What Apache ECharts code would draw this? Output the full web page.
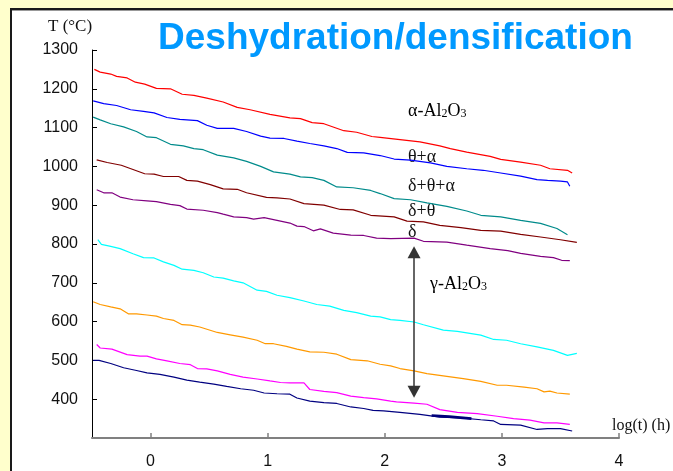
<!DOCTYPE html>
<html>
<head>
<meta charset="utf-8">
<script src="https://cdn.jsdelivr.net/npm/echarts@6/dist/echarts.min.js"></script>
<style>
html,body{margin:0;padding:0;}
#bg{position:absolute;left:0;top:0;width:673px;height:471px;background:#FFFFCC;}
#panel{position:absolute;left:10px;top:8px;width:663px;height:463px;background:#fff;border-left:2px solid #1a1a1a;border-top:2px solid #1a1a1a;box-sizing:border-box;box-shadow:inset 0 1px 0 #999;}
#chart{position:absolute;left:0;top:0;width:673px;height:471px;}
</style>
</head>
<body>
<div id="bg"></div>
<div id="panel"></div>
<div id="chart"></div>
<script>
// x = log(t) (h), y = T (°C)
const xTicks = [0, 1, 2, 3, 4];
const lineAlpha = [[-0.48,1250],[-0.43,1243],[-0.34,1238],[-0.29,1232],[-0.20,1228],[-0.13,1217],[-0.05,1212],[0.05,1201],[0.17,1200],[0.27,1186],[0.37,1183],[0.48,1176],[0.62,1166],[0.74,1152],[0.85,1146],[1.02,1134],[1.19,1125],[1.28,1123],[1.38,1113],[1.48,1110],[1.65,1092],[1.76,1088],[1.89,1077],[1.96,1075],[2.13,1069],[2.30,1063],[2.47,1053],[2.56,1046],[2.70,1037],[2.90,1026],[2.99,1018],[3.16,1011],[3.33,1003],[3.41,994],[3.56,990],[3.60,983]];
const lineThetaAlpha = [[-0.49,1169],[-0.40,1162],[-0.29,1157],[-0.17,1146],[-0.06,1142],[0.03,1138],[0.14,1126],[0.25,1121],[0.40,1118],[0.48,1106],[0.57,1098],[0.71,1098],[0.82,1090],[0.94,1078],[1.02,1073],[1.14,1072],[1.25,1065],[1.36,1059],[1.48,1053],[1.59,1046],[1.68,1036],[1.82,1035],[1.96,1028],[2.08,1019],[2.22,1016],[2.39,1009],[2.53,1000],[2.70,994],[2.84,990],[2.99,983],[3.16,975],[3.30,966],[3.39,964],[3.50,962],[3.56,960],[3.58,949]];
const lineDeltaThetaAlpha = [[-0.49,1127],[-0.43,1120],[-0.34,1110],[-0.23,1102],[-0.12,1090],[-0.03,1076],[0.05,1074],[0.17,1057],[0.28,1053],[0.37,1046],[0.45,1043],[0.57,1029],[0.71,1022],[0.82,1013],[0.94,1000],[1.05,986],[1.19,980],[1.28,973],[1.38,971],[1.48,964],[1.59,947],[1.73,945],[1.88,938],[1.96,930],[2.08,917],[2.22,914],[2.36,906],[2.53,897],[2.70,885],[2.82,874],[2.99,870],[3.16,861],[3.33,853],[3.47,840],[3.56,824]];
const lineDeltaTheta = [[-0.46,1017],[-0.37,1010],[-0.25,1003],[-0.15,992],[-0.05,981],[0.03,980],[0.11,974],[0.24,974],[0.31,964],[0.40,962],[0.51,953],[0.62,942],[0.74,941],[0.82,932],[0.99,920],[1.08,919],[1.19,916],[1.31,904],[1.48,900],[1.62,889],[1.73,888],[1.88,874],[2.08,870],[2.19,859],[2.33,857],[2.47,848],[2.65,842],[2.82,835],[2.99,833],[3.16,825],[3.33,818],[3.50,811],[3.64,804]];
const lineDelta = [[-0.46,940],[-0.40,932],[-0.33,932],[-0.26,921],[-0.15,914],[-0.03,911],[0.05,909],[0.17,902],[0.25,899],[0.31,890],[0.45,887],[0.57,881],[0.62,877],[0.71,870],[0.82,868],[0.88,864],[0.97,868],[1.05,863],[1.19,854],[1.25,846],[1.31,845],[1.39,834],[1.45,839],[1.56,828],[1.71,823],[1.82,822],[1.93,815],[2.05,814],[2.25,815],[2.33,807],[2.53,805],[2.70,797],[2.90,788],[3.05,783],[3.16,776],[3.33,768],[3.44,765],[3.51,758],[3.58,757]];
const lineGammaA = [[-0.45,811],[-0.42,799],[-0.34,794],[-0.26,788],[-0.15,775],[-0.06,765],[0.03,764],[0.11,754],[0.20,745],[0.27,735],[0.37,732],[0.45,726],[0.54,715],[0.62,712],[0.71,705],[0.79,700],[0.91,681],[0.99,678],[1.08,668],[1.19,662],[1.31,653],[1.42,644],[1.53,640],[1.65,629],[1.76,623],[1.88,614],[1.96,612],[2.05,605],[2.13,603],[2.25,599],[2.33,592],[2.50,578],[2.62,575],[2.82,565],[2.93,554],[3.04,552],[3.16,543],[3.30,535],[3.44,526],[3.56,513],[3.64,518]];
const lineGammaB = [[-0.49,651],[-0.43,644],[-0.34,638],[-0.26,633],[-0.19,620],[-0.12,620],[-0.03,617],[0.05,614],[0.11,608],[0.20,603],[0.27,592],[0.34,591],[0.42,586],[0.57,572],[0.68,566],[0.79,560],[0.91,552],[0.98,543],[1.05,543],[1.16,536],[1.25,529],[1.36,522],[1.48,521],[1.59,516],[1.71,502],[1.85,499],[1.96,490],[2.05,486],[2.13,479],[2.25,473],[2.36,466],[2.53,459],[2.67,453],[2.82,446],[2.96,436],[3.04,436],[3.19,431],[3.30,427],[3.36,419],[3.41,421],[3.47,416],[3.58,413]];
const lineGammaC = [[-0.46,541],[-0.43,532],[-0.33,529],[-0.20,515],[-0.09,511],[-0.03,511],[0.05,504],[0.14,499],[0.25,492],[0.34,489],[0.40,479],[0.48,478],[0.57,473],[0.68,464],[0.79,457],[0.91,452],[1.02,447],[1.11,443],[1.19,442],[1.31,442],[1.36,425],[1.48,420],[1.59,417],[1.71,408],[1.82,404],[1.93,401],[2.05,395],[2.10,393],[2.25,390],[2.36,387],[2.47,373],[2.62,366],[2.79,363],[2.96,356],[3.10,350],[3.24,346],[3.36,339],[3.47,339],[3.58,335]];
const lineGammaD = [[-0.49,500],[-0.44,500],[-0.34,492],[-0.23,481],[-0.12,474],[-0.03,468],[0.08,464],[0.20,457],[0.31,449],[0.42,444],[0.54,439],[0.65,433],[0.77,427],[0.88,423],[0.97,416],[1.08,414],[1.19,413],[1.25,403],[1.36,395],[1.48,391],[1.59,389],[1.71,380],[1.82,376],[1.90,371],[1.99,370],[2.13,366],[2.30,361],[2.47,354],[2.65,352],[2.82,347],[2.93,344],[2.99,335],[3.16,333],[3.30,322],[3.39,324],[3.50,324],[3.60,318]];
const lineGammaDOverlay = [[2.40,358],[2.55,355],[2.74,350]];
const arrowX = 2.25;
const arrowRange = [419, 779];

const lineColors = ['#FF0000','#0000FF','#008B8B','#800000','#800080','#00FFFF','#FF9900','#FF00FF','#000080'];
const lines = [lineAlpha, lineThetaAlpha, lineDeltaThetaAlpha, lineDeltaTheta, lineDelta, lineGammaA, lineGammaB, lineGammaC, lineGammaD];

const chart = echarts.init(document.getElementById('chart'), null, {renderer: 'canvas'});
const labelFont = 'Liberation Sans';
const serif = '"Liberation Serif", "DejaVu Serif", serif';

const series = lines.map((d, i) => ({
  type: 'line', data: d, showSymbol: false, symbol: 'none', smooth: false,
  lineStyle: {color: lineColors[i], width: 1.2}, silent: true
}));
series.push({
  type: 'line', data: lineGammaDOverlay, showSymbol: false, symbol: 'none',
  lineStyle: {color: '#00007a', width: 2.6}, silent: true,
  markLine: {
    silent: true, symbol: ['triangle', 'triangle'], symbolSize: [13, 12],
    label: {show: false},
    itemStyle: {color: '#000'},
    lineStyle: {color: '#333', width: 1.5, type: 'solid'},
    data: [[{coord: [arrowX, arrowRange[0]]}, {coord: [arrowX, arrowRange[1]]}]]
  }
});

const phaseRich = {
  n: {fontFamily: serif, fontSize: 18, color: '#111'},
  s: {fontFamily: serif, fontSize: 12, color: '#111', verticalAlign: 'bottom', padding: [6, 0, 0, 0]}
};
const phaseFont = '18px ' + serif;

const option = {
  animation: false,
  backgroundColor: 'transparent',
  grid: {left: 92, right: 54, top: 50, bottom: 33},
  xAxis: {
    type: 'value', min: -0.5, max: 4,
    axisLine: {onZero: false, lineStyle: {color: '#808080', width: 2}},
    axisTick: {show: true, inside: true, length: 5, customValues: xTicks, lineStyle: {color: '#808080', width: 1.5}},
    axisLabel: {customValues: xTicks, margin: 16, fontSize: 16, color: '#111', fontFamily: labelFont, formatter: v => String(v)},
    splitLine: {show: false}
  },
  yAxis: {
    type: 'value', min: 300, max: 1300, interval: 100,
    axisLine: {show: true, onZero: false, lineStyle: {color: '#000', width: 1}},
    axisTick: {show: true, inside: true, length: 5, lineStyle: {color: '#000'}},
    axisLabel: {showMinLabel: false, margin: 14, fontSize: 16, color: '#111', fontFamily: labelFont, formatter: v => String(v)},
    splitLine: {show: false}
  },
  graphic: [
    {type: 'text', x: 158, y: 39, style: {text: 'Deshydration/densification', font: 'bold 37px "Liberation Sans"', fill: '#0099FF', verticalAlign: 'middle'}},
    {type: 'text', x: 48, y: 27, style: {text: 'T (°C)', font: '17px ' + serif, fill: '#111', verticalAlign: 'middle'}},
    {type: 'text', x: 612, y: 426, style: {text: 'log(t) (h)', font: '16px ' + serif, fill: '#111', verticalAlign: 'middle'}},
    {type: 'text', x: 408, y: 111, style: {text: '{n|α-Al}{s|2}{n|O}{s|3}', rich: phaseRich, verticalAlign: 'middle'}},
    {type: 'text', x: 408, y: 157, style: {text: 'θ+α', font: phaseFont, fill: '#111', verticalAlign: 'middle'}},
    {type: 'text', x: 408, y: 186, style: {text: 'δ+θ+α', font: phaseFont, fill: '#111', verticalAlign: 'middle'}},
    {type: 'text', x: 408, y: 211, style: {text: 'δ+θ', font: phaseFont, fill: '#111', verticalAlign: 'middle'}},
    {type: 'text', x: 408, y: 232, style: {text: 'δ', font: phaseFont, fill: '#111', verticalAlign: 'middle'}},
    {type: 'text', x: 430, y: 284, style: {text: '{n|γ-Al}{s|2}{n|O}{s|3}', rich: phaseRich, verticalAlign: 'middle'}}
  ],
  series: series
};
chart.setOption(option);
</script>
</body>
</html>
